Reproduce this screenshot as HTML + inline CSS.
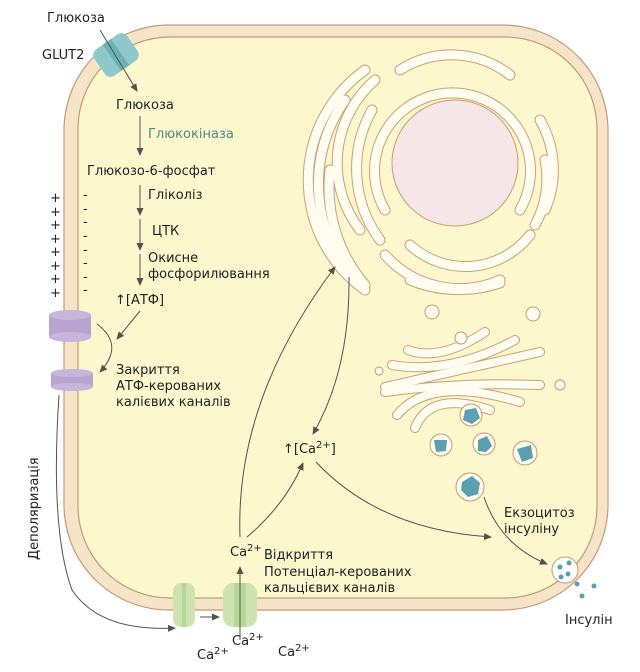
<!DOCTYPE html>
<html><head><meta charset="utf-8"><style>
body{margin:0;background:#fff}
svg{display:block}
text{font-family:"DejaVu Sans","Liberation Sans",sans-serif;font-size:13px;fill:#222}
</style></head><body>
<svg width="640" height="672" viewBox="0 0 640 672" xmlns="http://www.w3.org/2000/svg">
<defs>
<marker id="a" markerWidth="8" markerHeight="8" refX="7" refY="4" orient="auto" markerUnits="userSpaceOnUse">
<path d="M0,0.5 L8,4 L0,7.5 z" fill="#5a5048"/></marker>
</defs>
<!-- cell -->
<rect x="64" y="25" width="544" height="585" rx="105" fill="#f6e4c9" stroke="#c49a72" stroke-width="1.2"/>
<rect x="78" y="37" width="519" height="561" rx="92" fill="#fcf7cd" stroke="#c49a72" stroke-width="1.2"/>

<!-- ER rings -->
<g fill="none" stroke-linecap="round">
<g stroke="#c9a07a" stroke-width="11">
<path d="M385,210 A78,78 0 1 1 520,210"/>
<path d="M410,245 A82,82 0 0 0 530,235"/>
<path d="M400,70 A95,95 0 0 1 510,75"/>
<path d="M540,120 A100,100 0 0 1 545,210"/>
<path d="M385,255 A100,100 0 0 0 500,280"/>
<path d="M375,80 A110,110 0 0 0 360,230"/>
<path d="M372,110 A120,120 0 0 0 380,240"/>
<path d="M365,70 A135,135 0 0 0 365,290"/>
<path d="M345,100 A145,145 0 0 0 355,280"/>
<path d="M330,170 A150,150 0 0 0 365,285"/>
<path d="M410,280 A130,130 0 0 0 500,283"/>
<path d="M545,160 A95,95 0 0 1 535,225"/>
</g>
<g stroke="#fffdf0" stroke-width="9">
<path d="M385,210 A78,78 0 1 1 520,210"/>
<path d="M410,245 A82,82 0 0 0 530,235"/>
<path d="M400,70 A95,95 0 0 1 510,75"/>
<path d="M540,120 A100,100 0 0 1 545,210"/>
<path d="M385,255 A100,100 0 0 0 500,280"/>
<path d="M375,80 A110,110 0 0 0 360,230"/>
<path d="M372,110 A120,120 0 0 0 380,240"/>
<path d="M365,70 A135,135 0 0 0 365,290"/>
<path d="M345,100 A145,145 0 0 0 355,280"/>
<path d="M330,170 A150,150 0 0 0 365,285"/>
<path d="M410,280 A130,130 0 0 0 500,283"/>
<path d="M545,160 A95,95 0 0 1 535,225"/>
</g>
</g>
<circle cx="455" cy="163" r="63" fill="#f7e6e8" stroke="#c49a72" stroke-width="1"/>

<!-- Golgi -->
<g fill="none" stroke-linecap="round">
<g stroke="#c9a07a" stroke-width="10">
<path d="M408,350 Q440,362 485,332"/>
<path d="M392,365 Q450,375 515,340"/>
<path d="M385,387 Q450,372 540,352"/>
<path d="M385,392 Q460,382 540,385"/>
<path d="M397,415 Q430,375 520,402"/>
<path d="M415,428 Q430,390 490,410"/>
</g>
<g stroke="#fffdf0" stroke-width="8">
<path d="M408,350 Q440,362 485,332"/>
<path d="M392,365 Q450,375 515,340"/>
<path d="M385,387 Q450,372 540,352"/>
<path d="M385,392 Q460,382 540,385"/>
<path d="M397,415 Q430,375 520,402"/>
<path d="M415,428 Q430,390 490,410"/>
</g>
</g>
<g fill="#fffdf0" stroke="#c49a72" stroke-width="1">
<circle cx="432" cy="312" r="7"/><circle cx="533" cy="314" r="7"/>
<circle cx="461" cy="338" r="6"/><circle cx="379" cy="371" r="4"/><circle cx="560" cy="385" r="5"/>
<circle cx="471" cy="415" r="11"/><circle cx="441" cy="445" r="11"/><circle cx="484" cy="444" r="11"/>
<circle cx="525" cy="453" r="12"/><circle cx="470" cy="487" r="14"/>
</g>
<g fill="#5aa0ae">
<polygon points="465,410 476,408 480,418 472,424 463,420"/>
<polygon points="434,440 447,440 446,451 436,452"/>
<polygon points="478,440 487,436 492,446 486,452 478,451"/>
<polygon points="517,449 531,445 533,458 522,462"/>
<polygon points="462,482 472,476 480,483 478,494 468,497 461,490"/>
</g>

<!-- exocytosis vesicle -->
<circle cx="565" cy="570" r="13" fill="#fff" stroke="#c49a72" stroke-width="1"/>
<g fill="#5aa0ae"><circle cx="560" cy="567" r="2.5"/><circle cx="569" cy="563" r="2.5"/><circle cx="561" cy="577" r="2.5"/><circle cx="568" cy="574" r="2.5"/>
<circle cx="577" cy="584" r="2.5"/><circle cx="594" cy="586" r="2.5"/><circle cx="582" cy="596" r="2.5"/></g>

<!-- GLUT2 -->
<g transform="translate(116,55) rotate(-35)">
<rect x="-20" y="-16" width="40" height="32" rx="7" fill="#8ec8cb"/>
<rect x="-5" y="-16" width="10" height="32" fill="#6ab2b8"/>
</g>

<!-- K channels -->
<g>
<rect x="49" y="315" width="42" height="22" fill="#b9a3cf"/>
<ellipse cx="70" cy="315" rx="21" ry="5" fill="#c8b5dc"/>
<ellipse cx="70" cy="337" rx="21" ry="5" fill="#c8b5dc"/>
<rect x="51" y="373" width="42" height="14" fill="#b9a3cf"/>
<ellipse cx="72" cy="373" rx="21" ry="4" fill="#c8b5dc"/>
<ellipse cx="72" cy="387" rx="21" ry="4" fill="#c8b5dc"/>
</g>
<!-- Ca channels -->
<g>
<rect x="173" y="583" width="22" height="44" rx="8" fill="#cde3b0"/>
<rect x="182" y="583" width="4" height="44" fill="#b9d69a"/>
<rect x="223" y="583" width="34" height="44" rx="10" fill="#cde3b0"/>
<rect x="234" y="583" width="12" height="44" fill="#b9d69a"/>
</g>

<!-- charges -->
<g font-size="11">
<text x="50" y="202">+</text><text x="50" y="216">+</text><text x="50" y="229">+</text><text x="50" y="243">+</text><text x="50" y="256">+</text><text x="50" y="270">+</text><text x="50" y="283">+</text><text x="50" y="297">+</text>
<text x="83" y="199">-</text><text x="83" y="213">-</text><text x="83" y="226">-</text><text x="83" y="240">-</text><text x="83" y="254">-</text><text x="83" y="267">-</text><text x="83" y="281">-</text><text x="83" y="294">-</text>
</g>

<!-- arrows -->
<g fill="none" stroke="#5a5048" stroke-width="1">
<line x1="100" y1="30" x2="137" y2="91" marker-end="url(#a)"/>
<line x1="140" y1="116" x2="140" y2="155" marker-end="url(#a)"/>
<line x1="140" y1="185" x2="140" y2="215" marker-end="url(#a)"/>
<line x1="140" y1="219" x2="140" y2="250" marker-end="url(#a)"/>
<line x1="140" y1="254" x2="140" y2="285" marker-end="url(#a)"/>
<line x1="140" y1="311" x2="117" y2="339" marker-end="url(#a)"/>
<path d="M97,324 Q125,345 100,372" marker-end="url(#a)"/>
<path d="M59,395 Q50,530 72,590 Q100,632 175,628" marker-end="url(#a)"/>
<line x1="200" y1="617" x2="219" y2="617" marker-end="url(#a)"/>
<line x1="240" y1="640" x2="240" y2="567" marker-end="url(#a)"/>
<path d="M240,537 Q235,400 335,267" marker-end="url(#a)"/>
<path d="M247,537 Q285,505 303,463" marker-end="url(#a)"/>
<path d="M349,277 Q350,370 313,434" marker-end="url(#a)"/>
<path d="M316,462 Q380,530 491,537" marker-end="url(#a)"/>
<path d="M484,497 Q500,545 547,564" marker-end="url(#a)"/>
</g>

<!-- labels -->
<text x="47" y="22">Глюкоза</text>
<text x="42" y="59">GLUT2</text>
<text x="116" y="109">Глюкоза</text>
<text x="148" y="138" style="fill:#4a8a87">Глюкокіназа</text>
<text x="87" y="175">Глюкозо-6-фосфат</text>
<text x="148" y="199">Гліколіз</text>
<text x="152" y="235">ЦТК</text>
<text x="148" y="262">Окисне</text>
<text x="148" y="278">фосфорилювання</text>
<text x="115" y="304">↑[АТФ]</text>
<text x="116" y="374">Закриття</text>
<text x="116" y="390">АТФ-керованих</text>
<text x="116" y="406">калієвих каналів</text>
<text transform="translate(38,560) rotate(-90)">Деполяризація</text>
<text x="230" y="556">Ca<tspan dy="-5" font-size="10">2+</tspan></text>
<text x="264" y="559">Відкриття</text>
<text x="264" y="576">Потенціал-керованих</text>
<text x="264" y="592">кальцієвих каналів</text>
<text x="232" y="645">Ca<tspan dy="-5" font-size="10">2+</tspan></text>
<text x="197" y="659">Ca<tspan dy="-5" font-size="10">2+</tspan></text>
<text x="278" y="656">Ca<tspan dy="-5" font-size="10">2+</tspan></text>
<text x="283" y="453">↑[Ca<tspan dy="-5" font-size="10">2+</tspan><tspan dy="5">]</tspan></text>
<text x="504" y="517">Екзоцитоз</text>
<text x="504" y="533">інсуліну</text>
<text x="565" y="624">Інсулін</text>
</svg>
</body></html>
